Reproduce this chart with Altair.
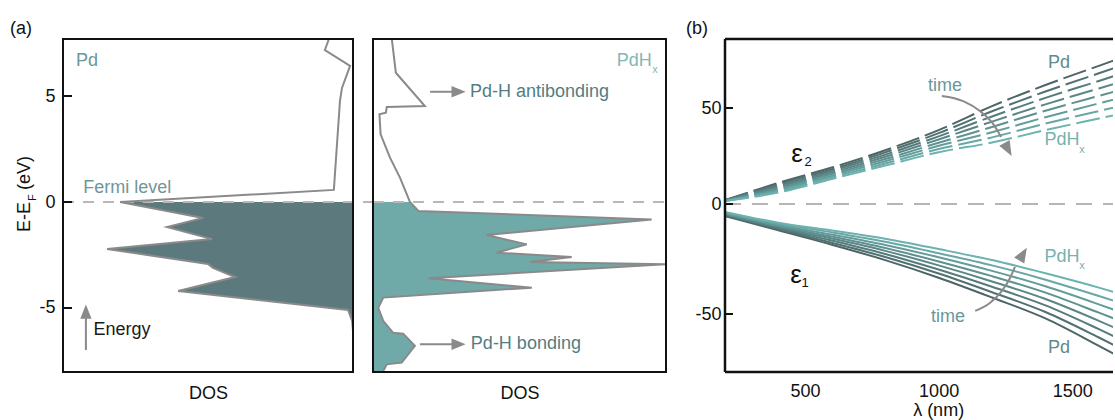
import altair as alt
import pandas as pd

FONT = "Liberation Sans"

# ---------------- panel (a): DOS of Pd (energy in eV, DOS in arb. units) ----------------
pd_energy = [7.69, 7.17, 6.42, 5.38, 4.76, 0.57, 0.0, -0.75, -1.18, -1.75, -2.22, -2.92,
             -3.11, -3.54, -4.20, -5.09, -5.61, -6.08]
pd_dos = [0.83, 0.97, 0.10, 0.38, 0.45, 0.66, 8.03, 5.17, 6.41, 4.86, 8.48, 5.00,
          4.83, 4.07, 6.03, 0.17, 0.03, 0.0]

# ---------------- panel (a): DOS of PdHx ----------------
pdh_energy = [7.72, 6.10, 4.53, 4.48, 4.21, 4.14, 3.19, 2.09, 1.15, 0.0, -0.42, -0.82,
              -1.56, -2.00, -2.39, -2.59, -2.83, -2.94, -3.60, -4.04, -4.51, -4.99,
              -5.61, -6.17, -6.21, -6.79, -7.58, -7.66, -7.97]
pdh_dos = [0.64, 0.78, 1.77, 0.47, 0.44, 0.22, 0.26, 0.58, 0.92, 1.26, 1.55, 9.51,
           3.88, 5.25, 4.22, 6.78, 5.36, 9.97, 1.89, 5.42, 0.35, 0.18,
           0.35, 0.69, 1.03, 1.43, 0.98, 0.47, 0.35]

# ---------------- panel (b): permittivity vs wavelength ----------------
wavelength = [200, 400, 600, 800, 1000, 1200, 1400, 1600, 1700]
curve_names = ["Pd", "c1", "c2", "c3", "c4", "c5", "c6", "PdHx"]
curve_colors = ["#4d6567", "#517071", "#567b7c", "#5a8686",
                "#5f9191", "#639c9b", "#68a7a6", "#6cb2b0"]
eps2_curves = [
    [2.0, 11.0, 19.0, 28.0, 38.5, 51.0, 62.0, 72.0, 77.0],
    [1.9, 10.3, 18.1, 26.9, 36.9, 48.3, 58.6, 68.1, 72.8],
    [1.9, 9.6, 17.3, 25.7, 35.2, 45.6, 55.3, 64.1, 68.6],
    [1.8, 8.9, 16.4, 24.6, 33.6, 42.9, 51.9, 60.2, 64.4],
    [1.7, 8.1, 15.6, 23.4, 31.9, 40.1, 48.6, 56.3, 60.1],
    [1.6, 7.4, 14.7, 22.3, 30.3, 37.4, 45.2, 52.4, 55.9],
    [1.6, 6.7, 13.9, 21.1, 28.6, 34.7, 41.9, 48.4, 51.7],
    [1.5, 6.0, 13.0, 20.0, 27.0, 32.0, 38.5, 44.5, 47.5],
]
eps1_curves = [
    [-5.5, -12.0, -18.5, -25.5, -33.5, -42.5, -52.0, -64.5, -71.0],
    [-5.2, -11.5, -17.6, -24.1, -31.6, -40.1, -49.1, -60.7, -66.8],
    [-5.0, -11.0, -16.6, -22.7, -29.8, -37.6, -46.1, -56.9, -62.6],
    [-4.7, -10.5, -15.7, -21.3, -27.9, -35.2, -43.2, -53.1, -58.4],
    [-4.4, -10.0, -14.8, -20.0, -26.1, -32.8, -40.3, -49.4, -54.1],
    [-4.1, -9.5, -13.9, -18.6, -24.2, -30.4, -37.4, -45.6, -49.9],
    [-3.9, -9.0, -12.9, -17.2, -22.4, -27.9, -34.4, -41.8, -45.7],
    [-3.6, -8.5, -12.0, -15.8, -20.5, -25.5, -31.5, -38.0, -41.5],
]

# annotation arrows in panel (b) (wavelength, eps)
arrow_up_lam = [1012, 1092, 1155, 1204, 1234]
arrow_up_eps = [56.3, 53.6, 48.4, 41.7, 34.9]
arrow_lo_lam = [1137, 1193, 1237, 1268, 1286]
arrow_lo_eps = [-48.6, -44.9, -39.5, -33.5, -28.6]

# ---------------- layout / style ----------------
W1, W2, W3, H = 290, 293, 388, 333
E_DOMAIN = [-8.02, 7.69]
GRAY = "#8a8a8a"
INK = "#111111"
ARROW = "M0,-1L0.8,1L-0.8,1Z"
one = pd.DataFrame({"k": [0]})


def frame_rect(w):
    return alt.Chart(one).mark_rect(filled=False, fillOpacity=0, stroke=INK, strokeWidth=2).encode(
        x=alt.value(0), x2=alt.value(w), y=alt.value(0), y2=alt.value(H))


def dos_x(reverse):
    return alt.X("dos:Q",
                 scale=alt.Scale(domain=[0, 10], reverse=reverse, nice=False, zero=False),
                 axis=alt.Axis(title="DOS", labels=False, ticks=False, tickSize=0, domain=False,
                               grid=False, titlePadding=12, titleFontSize=18,
                               titleFontWeight="normal", titleColor=INK))


def txt(df, x, y, **kw):
    return alt.Chart(df).mark_text(fontWeight="normal", **kw).encode(x=x, y=y)


# ================= panel 1 : Pd =================
dfa = pd.DataFrame({"E": pd_energy, "dos": pd_dos, "i": list(range(len(pd_energy)))})
dfa["base"] = 0.0
xa = dos_x(True)
ya = alt.Y("E:Q", scale=alt.Scale(domain=E_DOMAIN, nice=False, zero=False),
           axis=alt.Axis(title=None, values=[-5, 0, 5], ticks=False, tickSize=0, domain=False,
                         grid=False, labelPadding=8, labelFontSize=18, labelColor=INK,
                         labelExpr="'' + datum.value"))
zero_E = pd.DataFrame({"E": [0.0]})

a_area = alt.Chart(dfa[dfa["E"] <= 0]).mark_area(orient="horizontal", color="#5c7a7e", opacity=1).encode(
    x=xa, x2="base:Q", y=ya)
a_fermi = alt.Chart(zero_E).mark_rule(color="#b8b8b8", strokeWidth=2, strokeDash=[11, 9]).encode(
    x=alt.value(0), x2=alt.value(W1 + 20), y=ya)
a_line = alt.Chart(dfa).mark_line(color=GRAY, strokeWidth=2, clip=True).encode(
    x=xa, y=ya, order=alt.Order("i:Q"))
a_ticks = alt.Chart(pd.DataFrame({"E": [-5, 0, 5]})).mark_rule(color=INK, strokeWidth=2).encode(
    x=alt.value(0), x2=alt.value(9), y=ya)
a_pd = txt(pd.DataFrame({"dos": [9.55], "E": [6.65]}), xa, ya, text="Pd", align="left",
           baseline="middle", fontSize=18, color="#6a979b")
a_fermi_t = txt(pd.DataFrame({"dos": [9.3], "E": [0.67]}), xa, ya, text="Fermi level", align="left",
                baseline="middle", fontSize=18, color="#6f969a")
a_energy = txt(pd.DataFrame({"dos": [8.95], "E": [-6.04]}), xa, ya, text="Energy", align="left",
               baseline="middle", fontSize=18, color="#1a1a1a")
a_shaft = alt.Chart(pd.DataFrame({"dos": [9.21], "E": [-6.98], "E2": [-5.3]})).mark_rule(
    color=GRAY, strokeWidth=2).encode(x=xa, y=ya, y2="E2:Q")
a_head = alt.Chart(pd.DataFrame({"dos": [9.21], "E": [-5.17]})).mark_point(
    shape=ARROW, filled=True, size=200, color=GRAY, opacity=1, angle=0).encode(x=xa, y=ya)
a_t1 = alt.Chart(one).mark_text(text="E-E", angle=270, align="right", baseline="middle",
                                fontSize=18, color=INK).encode(x=alt.value(-38), y=alt.value(163))
a_t2 = alt.Chart(one).mark_text(text="F", angle=270, align="left", baseline="middle",
                                fontSize=11, color=INK).encode(x=alt.value(-30), y=alt.value(162))
a_t3 = alt.Chart(one).mark_text(text="(eV)", angle=270, align="left", baseline="middle",
                                fontSize=18, color=INK).encode(x=alt.value(-38), y=alt.value(151))
a_lbl = alt.Chart(one).mark_text(text="(a)", align="left", baseline="middle", fontSize=18,
                                 color=INK).encode(x=alt.value(-53), y=alt.value(-10))

panel1 = alt.layer(a_area, a_fermi, a_line, a_ticks, a_pd, a_fermi_t, a_energy, a_shaft, a_head,
                   a_t1, a_t2, a_t3, a_lbl, frame_rect(W1)).properties(width=W1, height=H)

# ================= panel 2 : PdHx =================
dfb2 = pd.DataFrame({"E": pdh_energy, "dos": pdh_dos, "i": list(range(len(pdh_energy)))})
dfb2["base"] = 0.0
xb = dos_x(False)
yb = alt.Y("E:Q", scale=alt.Scale(domain=E_DOMAIN, nice=False, zero=False), axis=None)

b_area = alt.Chart(dfb2[dfb2["E"] <= 0]).mark_area(orient="horizontal", color="#6fa9a8", opacity=1).encode(
    x=xb, x2="base:Q", y=yb)
b_fermi = alt.Chart(zero_E).mark_rule(color="#b8b8b8", strokeWidth=2, strokeDash=[11, 9]).encode(
    x=alt.value(0), x2=alt.value(W2), y=yb)
b_line = alt.Chart(dfb2).mark_line(color=GRAY, strokeWidth=2, clip=True).encode(
    x=xb, y=yb, order=alt.Order("i:Q"))
b_anti = txt(pd.DataFrame({"dos": [3.31], "E": [5.2]}), xb, yb, text="Pd-H antibonding",
             align="left", baseline="middle", fontSize=18, color="#527d83")
b_bond = txt(pd.DataFrame({"dos": [3.34], "E": [-6.71]}), xb, yb, text="Pd-H bonding",
             align="left", baseline="middle", fontSize=18, color="#527d83")
b_pdh = txt(pd.DataFrame({"dos": [9.51], "E": [6.67]}), xb, yb, text="PdH", align="right",
            baseline="middle", fontSize=18, color="#7fb7b5")
b_pdhx = txt(pd.DataFrame({"dos": [9.53], "E": [6.25]}), xb, yb, text="x", align="left",
             baseline="middle", fontSize=11, color="#7fb7b5")
b_shaft = alt.Chart(pd.DataFrame({"dos": [1.95, 1.6], "dos2": [2.8, 2.8], "E": [5.2, -6.71]})).mark_rule(
    color=GRAY, strokeWidth=2).encode(x=xb, x2="dos2:Q", y=yb)
b_head = alt.Chart(pd.DataFrame({"dos": [2.92, 2.92], "E": [5.2, -6.71]})).mark_point(
    shape=ARROW, filled=True, size=200, color=GRAY, opacity=1, angle=90).encode(x=xb, y=yb)

panel2 = alt.layer(b_area, b_fermi, b_line, b_anti, b_bond, b_pdh, b_pdhx, b_shaft, b_head,
                   frame_rect(W2)).properties(width=W2, height=H)

# ================= spacer =================
spacer = alt.Chart(one).mark_rule(strokeOpacity=0).encode(
    x=alt.value(0), x2=alt.value(1), y=alt.value(0)).properties(width=19, height=H)

# ================= panel 3 : permittivity =================
rows = []
for kind, curves in (("e2", eps2_curves), ("e1", eps1_curves)):
    for name, vals in zip(curve_names, curves):
        for lam, v in zip(wavelength, vals):
            rows.append({"kind": kind, "curve": name, "lam": lam, "eps": v})
dfe = pd.DataFrame(rows)

x3 = alt.X("lam:Q", scale=alt.Scale(domain=[200, 1653], nice=False, zero=False),
           axis=alt.Axis(title=None, values=[500, 1000, 1500], ticks=False, tickSize=0,
                         domain=False, grid=False, labelPadding=10, labelFontSize=18,
                         labelColor=INK, labelExpr="'' + datum.value"))
y3 = alt.Y("eps:Q", scale=alt.Scale(domain=[-76.4, -50, 0, 50, 86], range=[H, 275, 165, 69, 0],
                                    nice=False, zero=False),
           axis=alt.Axis(title=None, values=[-50, 0, 50], ticks=False, tickSize=0, domain=False,
                         grid=False, labelPadding=4, labelFontSize=18, labelColor=INK,
                         labelExpr="'' + datum.value"))
col3 = alt.Color("curve:N", scale=alt.Scale(domain=curve_names, range=curve_colors), legend=None)

c_zero = alt.Chart(pd.DataFrame({"eps": [0.0]})).mark_rule(
    color="#b5b5b5", strokeWidth=2.2, strokeDash=[16, 11]).encode(
    x=alt.value(0), x2=alt.value(W3), y=y3)
c_e2 = alt.Chart(dfe[dfe["kind"] == "e2"]).mark_line(
    strokeWidth=2, strokeDash=[24, 6], clip=True, interpolate="monotone").encode(
    x=x3, y=y3, color=col3)
c_e1 = alt.Chart(dfe[dfe["kind"] == "e1"]).mark_line(
    strokeWidth=2, clip=True, interpolate="monotone").encode(
    x=x3, y=y3, color=col3)
c_ticks = alt.Chart(pd.DataFrame({"eps": [-50, 0, 50]})).mark_rule(color=INK, strokeWidth=2).encode(
    x=alt.value(0), x2=alt.value(8), y=y3)

arrows = pd.DataFrame({
    "lam": arrow_up_lam + arrow_lo_lam,
    "eps": arrow_up_eps + arrow_lo_eps,
    "a": ["up"] * len(arrow_up_lam) + ["lo"] * len(arrow_lo_lam)})
c_arrow = alt.Chart(arrows).mark_line(color=GRAY, strokeWidth=2, interpolate="monotone").encode(
    x=x3, y=y3, detail="a:N")
c_head1 = alt.Chart(pd.DataFrame({"lam": [1260], "eps": [28.4]})).mark_point(
    shape=ARROW, filled=True, size=220, color=GRAY, opacity=1, angle=151).encode(x=x3, y=y3)
c_head2 = alt.Chart(pd.DataFrame({"lam": [1316], "eps": [-22.8]})).mark_point(
    shape=ARROW, filled=True, size=220, color=GRAY, opacity=1, angle=31).encode(x=x3, y=y3)

big = pd.DataFrame({"lam": [470, 466], "eps": [26.0, -32.3]})
sub = pd.DataFrame({"lam": [511, 500], "eps": [21.9, -35.9], "label": ["2", "1"]})
times = pd.DataFrame({"lam": [1024, 1035], "eps": [61.5, -51.4]})
pdl = pd.DataFrame({"lam": [1451, 1451], "eps": [73.4, -65.3]})
pdhl = pd.DataFrame({"lam": [1462, 1462], "eps": [33.1, -24.1]})
pdhs = pd.DataFrame({"lam": [1537, 1537], "eps": [28.1, -28.4]})
c_eps = txt(big, x3, y3, text="ε", align="center", baseline="middle", fontSize=26, color=INK)
c_sub = alt.Chart(sub).mark_text(align="center", baseline="middle", fontSize=13, color=INK).encode(
    x=x3, y=y3, text="label:N")
c_time = txt(times, x3, y3, text="time", align="center", baseline="middle", fontSize=18, color="#6b979b")
c_pd = txt(pdl, x3, y3, text="Pd", align="center", baseline="middle", fontSize=18, color="#5f8a8e")
c_pdh = txt(pdhl, x3, y3, text="PdH", align="center", baseline="middle", fontSize=18, color="#78b1af")
c_pdhx = txt(pdhs, x3, y3, text="x", align="center", baseline="middle", fontSize=11, color="#78b1af")

c_xtitle = alt.Chart(pd.DataFrame({"lam": [1000]})).mark_text(
    text="λ (nm)", align="center", baseline="alphabetic", fontSize=18, color=INK).encode(
    x=x3, y=alt.value(377))
c_lbl = alt.Chart(one).mark_text(text="(b)", align="left", baseline="middle", fontSize=18,
                                 color=INK).encode(x=alt.value(-39), y=alt.value(-10))
c_top = alt.Chart(one).mark_rule(color=INK, strokeWidth=2.5).encode(
    x=alt.value(0), x2=alt.value(W3), y=alt.value(0))
c_bottom = alt.Chart(one).mark_rule(color=INK, strokeWidth=2.5).encode(
    x=alt.value(0), x2=alt.value(W3), y=alt.value(H))
c_left = alt.Chart(one).mark_rule(color=INK, strokeWidth=2.5).encode(
    x=alt.value(0), y=alt.value(0), y2=alt.value(H))

panel3 = alt.layer(c_zero, c_e2, c_e1, c_ticks, c_arrow, c_head1, c_head2, c_eps, c_sub, c_time,
                   c_pd, c_pdh, c_pdhx, c_xtitle, c_lbl, c_top, c_bottom, c_left
                   ).properties(width=W3, height=H)

chart = (alt.hconcat(panel1, panel2, spacer, panel3, spacing=20, bounds="flush")
         .properties(padding={"left": 10, "top": 20, "right": 0, "bottom": 0})
         .configure(font=FONT)
         .configure_view(strokeOpacity=0))

chart.save("out.html", embed_options={"renderer": "svg", "actions": False})
